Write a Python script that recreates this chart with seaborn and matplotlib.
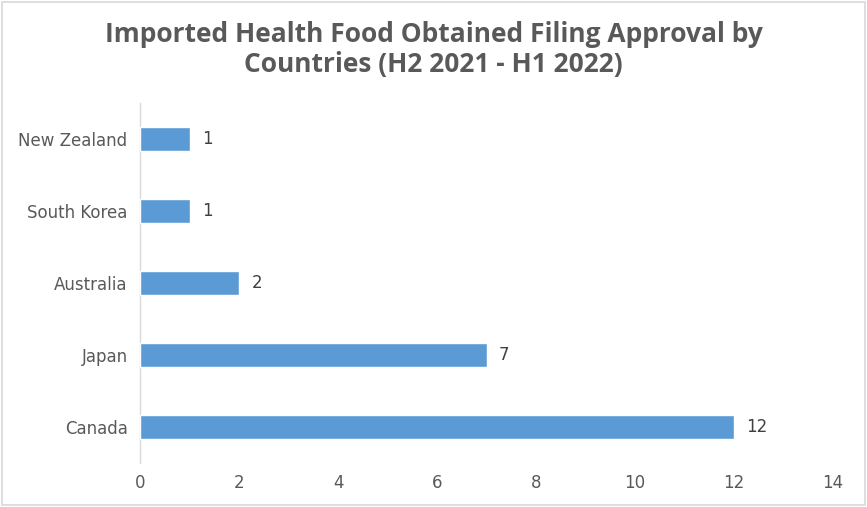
import matplotlib
matplotlib.use("Agg")
import matplotlib.pyplot as plt
import seaborn as sns
import pandas as pd
from matplotlib.patches import Rectangle

countries = ["New Zealand", "South Korea", "Australia", "Japan", "Canada"]
counts = [1, 1, 2, 7, 12]
xticks = [0, 2, 4, 6, 8, 10, 12, 14]
title = "Imported Health Food Obtained Filing Approval by\nCountries (H2 2021 - H1 2022)"

df = pd.DataFrame({"country": countries, "count": counts})

sns.set_theme(style="white")
plt.rcParams["font.family"] = ["DejaVu Sans"]

fig = plt.figure(figsize=(8.67, 5.07), dpi=100)
ax = fig.add_axes([0.1615, 0.087, 0.7995, 0.71])

sns.barplot(data=df, x="count", y="country", orient="h", color="#5B9BD5",
            width=0.34, saturation=1, ax=ax, zorder=3)

for i, v in enumerate(counts):
    ax.text(v + 0.25, i, str(v), va="center", ha="left", fontsize=12,
            color="#404040", family="DejaVu Sans")

ax.set_xlim(0, 14)
ax.set_xticks(xticks)
ax.set_xticklabels([str(t) for t in xticks])
ax.set_ylim(4.5, -0.5)
ax.set_xlabel("")
ax.set_ylabel("")
for s in ["top", "right", "bottom"]:
    ax.spines[s].set_visible(False)
ax.spines["left"].set_color("#D9D9D9")
ax.spines["left"].set_linewidth(1)
ax.tick_params(axis="x", length=0, labelsize=12, labelcolor="#595959", pad=8)
ax.tick_params(axis="y", length=0, labelsize=12, labelcolor="#595959", pad=9)
ax.patch.set_alpha(0)

fig.text(0.5, 0.903, title, ha="center", va="center", fontsize=19,
         fontweight="bold", color="#595959", family="Open Sans", linespacing=1.15)

fig.patches.append(Rectangle((0.002, 0.003), 0.996, 0.994, transform=fig.transFigure,
                             fill=False, edgecolor="#D9D9D9", linewidth=1.2))

fig.savefig("out.png", dpi=100)
